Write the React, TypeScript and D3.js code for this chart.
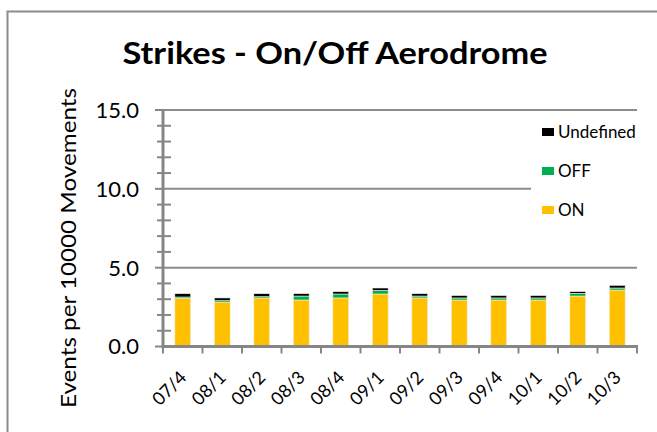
import React, { useEffect, useRef } from 'react';
import * as d3 from 'd3';

const categories = ['07/4', '08/1', '08/2', '08/3', '08/4', '09/1', '09/2', '09/3', '09/4', '10/1', '10/2', '10/3'];
const onValues = [3.05, 2.82, 3.08, 2.95, 3.08, 3.33, 3.08, 2.95, 2.95, 2.95, 3.2, 3.58];
const offValues = [0.09, 0.09, 0.08, 0.25, 0.25, 0.23, 0.12, 0.13, 0.13, 0.13, 0.17, 0.13];
const undefinedValues = [0.21, 0.17, 0.19, 0.15, 0.15, 0.15, 0.15, 0.15, 0.15, 0.15, 0.11, 0.17];
const yTicks = [0, 5, 10, 15];
const seriesNames = ['ON', 'OFF', 'Undefined'];
const seriesColors = ['#FFC000', '#00B050', '#000000'];

const W = 657;
const H = 432;
const FONT = 'Lato, "Noto Sans", sans-serif';

export default function App() {
  const svgRef = useRef<SVGSVGElement | null>(null);

  useEffect(() => {
    const svg = d3.select(svgRef.current);
    svg.selectAll('*').remove();

    const left = 163;
    const right = 637;
    const top = 110;
    const bottom = 346.5;

    const x = d3.scaleBand().domain(categories).range([left, right]).paddingInner(0.6).paddingOuter(0.3);
    const band = d3.scaleBand().domain(categories).range([left, right]);
    const y = d3.scaleLinear().domain([0, 15]).range([bottom, top]);

    // outer border
    svg.append('rect').attr('x', 7.5).attr('y', 11.5).attr('width', W + 10).attr('height', H + 10)
      .attr('fill', '#fff').attr('stroke', '#8c8c8c').attr('stroke-width', 2);

    // gridlines
    svg.append('g').selectAll('line').data(yTicks.filter(t => t > 0)).enter().append('line')
      .attr('x1', left).attr('x2', right).attr('y1', d => y(d)).attr('y2', d => y(d))
      .attr('stroke', '#8c8c8c').attr('stroke-width', 2);

    // stacked bars
    const rows = categories.map((c, i) => ({ cat: c, ON: onValues[i], OFF: offValues[i], Undefined: undefinedValues[i] }));
    const stack = d3.stack<any>().keys(seriesNames)(rows);
    stack.forEach((layer, si) => {
      svg.append('g').selectAll('rect').data(layer).enter().append('rect')
        .attr('x', d => x(d.data.cat)!)
        .attr('width', x.bandwidth())
        .attr('y', d => y(d[1]))
        .attr('height', d => y(d[0]) - y(d[1]))
        .attr('fill', seriesColors[si])
        .attr('stroke', '#f4efe0').attr('stroke-width', 0.6);
    });

    // y axis
    const yAxis = svg.append('g');
    yAxis.selectAll('line.minor').data(d3.range(0, 16).filter(v => v % 5 !== 0)).enter().append('line')
      .attr('x1', left - 6).attr('x2', left + 8).attr('y1', d => y(d)).attr('y2', d => y(d))
      .attr('stroke', '#868686').attr('stroke-width', 2);
    yAxis.selectAll('line.major').data(yTicks).enter().append('line')
      .attr('x1', left - 8).attr('x2', left).attr('y1', d => y(d)).attr('y2', d => y(d))
      .attr('stroke', '#868686').attr('stroke-width', 2);
    yAxis.append('line').attr('x1', left).attr('x2', left).attr('y1', top - 1).attr('y2', bottom + 1.5)
      .attr('stroke', '#868686').attr('stroke-width', 3);
    yAxis.selectAll('text').data(yTicks).enter().append('text')
      .attr('x', 139).attr('y', d => y(d)).attr('dy', '0.36em').attr('text-anchor', 'end')
      .attr('font-family', FONT).attr('font-size', 22).attr('fill', '#000')
      .text(d => d3.format('.1f')(d));

    // x axis
    const xAxis = svg.append('g');
    const bounds = categories.map(c => band(c)!).concat([right]);
    xAxis.selectAll('line').data(bounds).enter().append('line')
      .attr('x1', d => d).attr('x2', d => d).attr('y1', bottom).attr('y2', bottom + 7)
      .attr('stroke', '#868686').attr('stroke-width', 2);
    xAxis.append('line').attr('x1', left - 1.5).attr('x2', right + 1).attr('y1', bottom).attr('y2', bottom)
      .attr('stroke', '#868686').attr('stroke-width', 3);
    xAxis.selectAll('text').data(categories).enter().append('text')
      .attr('transform', d => `translate(${band(d)! + band.bandwidth() / 2 + 5},${bottom + 32}) rotate(-45)`)
      .attr('text-anchor', 'end')
      .attr('font-family', FONT).attr('font-size', 18).attr('fill', '#000')
      .text(d => d);

    // legend
    const legend = svg.append('g');
    legend.append('rect').attr('x', 531).attr('y', 118).attr('width', 106).attr('height', 112).attr('fill', '#fff');
    const legendItems = [
      { name: 'Undefined', color: seriesColors[2], cy: 132 },
      { name: 'OFF', color: seriesColors[1], cy: 171 },
      { name: 'ON', color: seriesColors[0], cy: 210 },
    ];
    legendItems.forEach(it => {
      legend.append('rect').attr('x', 542).attr('y', it.cy - 4).attr('width', 12).attr('height', 8).attr('fill', it.color);
      legend.append('text').attr('x', 558).attr('y', it.cy).attr('dy', '0.36em')
        .attr('font-family', FONT).attr('font-size', 17).attr('fill', '#000').text(it.name);
    });

    // title
    svg.append('text').attr('x', 335).attr('y', 64).attr('text-anchor', 'middle')
      .attr('font-family', FONT).attr('font-weight', 'bold').attr('font-size', 30)
      .attr('textLength', 425).attr('lengthAdjust', 'spacingAndGlyphs')
      .text('Strikes - On/Off Aerodrome');

    // y axis title
    svg.append('text').attr('transform', `translate(76,${248}) rotate(-90)`).attr('text-anchor', 'middle')
      .attr('font-family', FONT).attr('font-size', 21).attr('fill', '#000')
      .attr('textLength', 320).attr('lengthAdjust', 'spacingAndGlyphs')
      .text('Events per 10000 Movements');
  }, []);

  return (
    <svg ref={svgRef} width={W} height={H} style={{ position: 'absolute', left: 0, top: 0, display: 'block' }} />
  );
}
